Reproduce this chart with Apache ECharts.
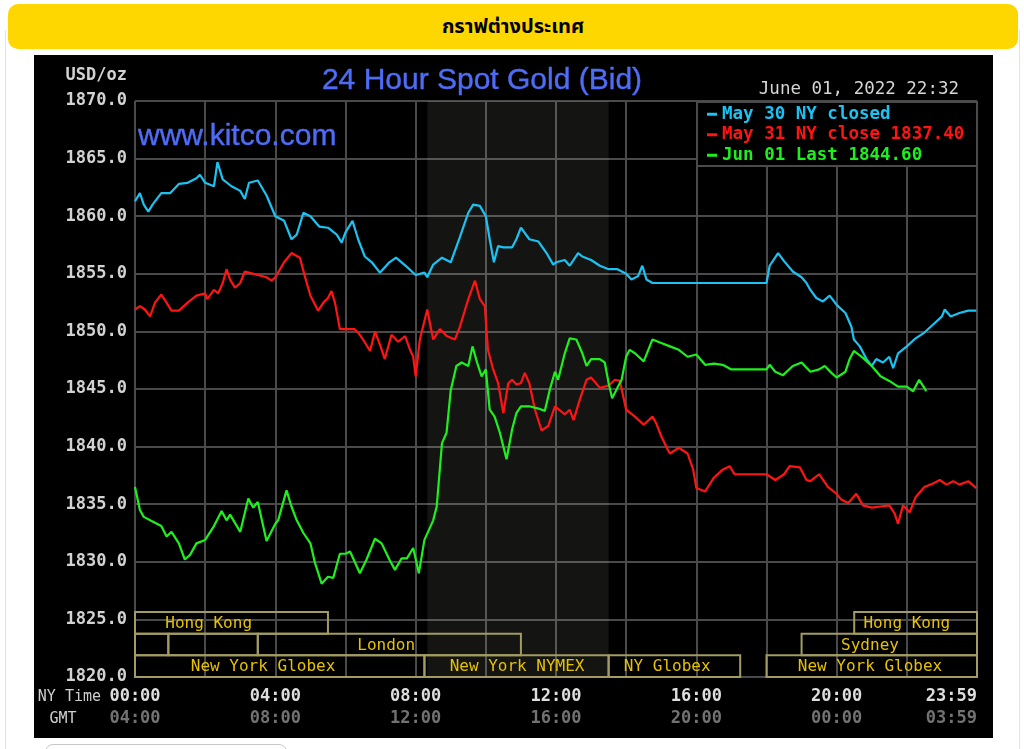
<!DOCTYPE html>
<html>
<head>
<meta charset="utf-8">
<script src="https://cdn.jsdelivr.net/npm/echarts@6/dist/echarts.min.js"></script>
<style>
  html, body { margin:0; padding:0; background:#fff; width:1024px; height:749px; overflow:hidden; }
  #frame { position:absolute; left:5px; top:30px; width:1013px; height:730px; border-left:1px solid #e2e2e2; border-right:1px solid #e2e2e2; }
  #hdr { position:absolute; left:8px; top:4px; width:1010px; height:45px; background:#ffd700; border-radius:10px;
         text-align:center; line-height:46px; font-weight:bold; font-size:20px; color:#000;
         font-family:'Noto Sans Thai','Tahoma','Noto Sans',sans-serif; }
  #panel { position:absolute; left:34px; top:55px; width:959px; height:683px; background:#000; }
  #chart { width:959px; height:683px; }
  #btn { position:absolute; left:45px; top:744px; width:240px; height:30px; border:1px solid #c8c8c8; border-radius:8px; }
</style>
</head>
<body>
<div id="frame"></div>
<div id="hdr">กราฟต่างประเทศ</div>
<div id="panel"><div id="chart"></div></div>
<div id="btn"></div>
<script>
// ---- data (hours in NY time, price USD/oz) ----
const may30Time = [0.00,0.14,0.25,0.38,0.50,0.75,1.00,1.25,1.50,1.75,1.85,2.00,2.25,2.35,2.50,2.75,3.00,3.13,3.25,3.50,3.75,4.00,4.25,4.46,4.61,4.80,5.00,5.25,5.50,5.75,5.89,6.00,6.20,6.36,6.55,6.75,6.98,7.25,7.44,7.75,8.00,8.25,8.33,8.50,8.75,9.00,9.25,9.50,9.64,9.83,10.00,10.11,10.23,10.35,10.50,10.75,10.87,11.00,11.24,11.50,11.75,11.92,12.00,12.25,12.39,12.63,12.75,13.00,13.25,13.50,13.75,14.00,14.15,14.34,14.46,14.58,14.75,18.00,18.09,18.33,18.50,18.75,19.00,19.14,19.25,19.42,19.61,19.80,20.00,20.25,20.42,20.49,20.66,20.85,21.00,21.13,21.32,21.50,21.61,21.75,22.00,22.25,22.50,22.75,23.00,23.08,23.25,23.50,23.75,23.98];
const may30Price = [1861.3,1862.0,1861.0,1860.4,1861.0,1862.0,1862.0,1862.8,1862.9,1863.3,1863.6,1862.9,1862.6,1864.7,1863.2,1862.6,1862.2,1861.5,1862.9,1863.1,1861.8,1860.0,1859.6,1858.0,1858.4,1860.3,1860.0,1859.1,1859.0,1858.4,1857.7,1858.6,1859.6,1858.0,1856.5,1856.0,1855.1,1856.0,1856.4,1855.6,1854.9,1855.1,1854.7,1855.8,1856.4,1856.0,1858.1,1860.3,1861.0,1860.9,1860.0,1858.0,1856.0,1857.4,1857.3,1857.3,1858.0,1859.0,1858.0,1857.8,1856.7,1855.8,1856.0,1856.2,1855.7,1856.8,1856.5,1856.2,1855.7,1855.4,1855.4,1855.0,1854.5,1854.8,1855.7,1854.5,1854.2,1854.2,1855.7,1856.8,1856.1,1855.2,1854.7,1854.2,1853.6,1852.9,1852.6,1853.1,1852.3,1851.6,1850.4,1849.3,1848.7,1847.6,1847.0,1847.6,1847.3,1847.8,1846.8,1848.1,1848.7,1849.4,1849.9,1850.6,1851.3,1851.9,1851.3,1851.6,1851.8,1851.8];

const may31Time = [0.00,0.14,0.28,0.43,0.57,0.75,0.90,1.04,1.25,1.50,1.75,2.00,2.06,2.25,2.37,2.50,2.61,2.71,2.85,3.00,3.13,3.25,3.50,3.75,3.89,4.00,4.25,4.46,4.70,4.84,5.00,5.22,5.37,5.50,5.60,5.70,5.84,6.00,6.25,6.36,6.50,6.70,6.84,7.00,7.12,7.31,7.50,7.70,7.84,7.93,8.00,8.12,8.33,8.50,8.69,8.88,9.12,9.26,9.50,9.69,9.83,9.97,10.06,10.21,10.35,10.50,10.64,10.75,10.87,11.00,11.11,11.24,11.40,11.59,11.78,11.97,12.25,12.39,12.50,12.68,12.87,13.00,13.25,13.50,13.68,13.82,14.00,14.25,14.50,14.75,14.86,15.00,15.19,15.25,15.50,15.75,15.91,16.00,16.25,16.50,16.75,16.95,17.09,18.00,18.25,18.50,18.66,18.95,19.14,19.25,19.50,19.75,20.00,20.13,20.33,20.56,20.75,21.00,21.25,21.50,21.65,21.75,21.89,22.08,22.25,22.50,22.75,22.94,23.13,23.32,23.50,23.75,23.98];
const may31Price = [1851.9,1852.2,1851.9,1851.3,1852.5,1853.2,1852.5,1851.8,1851.8,1852.5,1853.1,1853.3,1852.8,1853.6,1853.3,1854.2,1855.4,1854.5,1853.8,1854.2,1855.2,1855.1,1854.9,1854.7,1854.4,1854.7,1856.0,1856.8,1856.4,1854.8,1853.1,1851.8,1852.5,1852.9,1853.5,1852.5,1850.2,1850.2,1850.2,1849.9,1849.3,1848.3,1850.0,1848.7,1847.6,1849.7,1849.1,1849.6,1848.4,1847.8,1846.1,1849.3,1851.9,1849.3,1850.2,1849.6,1849.3,1850.4,1852.8,1854.4,1852.8,1852.2,1848.4,1846.7,1845.5,1842.9,1845.5,1845.8,1845.4,1845.5,1846.4,1845.5,1843.2,1841.4,1841.8,1843.5,1842.8,1843.2,1842.3,1844.1,1845.8,1846.0,1845.1,1845.3,1845.8,1845.7,1843.2,1842.6,1841.9,1842.6,1842.0,1840.9,1839.7,1839.4,1839.9,1839.4,1838.0,1836.4,1836.1,1837.3,1838.0,1838.3,1837.6,1837.6,1837.1,1837.6,1838.3,1838.2,1837.1,1837.0,1837.6,1836.5,1835.9,1835.4,1835.1,1835.9,1834.9,1834.7,1834.8,1834.9,1834.2,1833.3,1834.9,1834.3,1835.6,1836.5,1836.8,1837.1,1836.7,1837.0,1836.7,1837.0,1836.4];

const jun01Time = [0.00,0.14,0.25,0.50,0.75,0.90,1.04,1.25,1.42,1.57,1.75,2.00,2.25,2.47,2.61,2.71,3.00,3.23,3.37,3.50,3.75,4.00,4.08,4.32,4.46,4.61,4.80,5.00,5.13,5.32,5.50,5.65,5.84,6.00,6.13,6.41,6.60,6.84,7.03,7.25,7.41,7.60,7.75,7.93,8.09,8.25,8.50,8.60,8.75,8.88,9.00,9.16,9.31,9.50,9.62,9.75,9.88,10.00,10.11,10.25,10.40,10.59,10.75,10.87,11.00,11.24,11.50,11.68,11.82,11.97,12.06,12.25,12.39,12.58,12.75,12.87,13.00,13.25,13.39,13.50,13.60,13.75,13.87,14.00,14.10,14.25,14.50,14.75,15.00,15.25,15.50,15.75,16.00,16.25,16.50,16.75,17.00,18.00,18.09,18.25,18.47,18.75,19.00,19.25,19.50,19.66,19.85,20.00,20.25,20.37,20.49,20.75,21.00,21.25,21.50,21.75,22.00,22.18,22.35,22.50,22.55];
const jun01Price = [1836.5,1834.5,1833.9,1833.5,1833.1,1832.2,1832.6,1831.6,1830.2,1830.6,1831.6,1831.9,1833.1,1834.4,1833.6,1834.1,1832.6,1835.5,1834.7,1835.2,1831.8,1833.3,1833.6,1836.2,1834.8,1833.6,1832.5,1831.6,1829.9,1828.1,1828.7,1828.6,1830.7,1830.7,1830.9,1829.0,1830.2,1832.0,1831.6,1830.2,1829.3,1830.3,1830.3,1831.2,1829.0,1831.9,1833.6,1834.8,1840.3,1841.2,1844.9,1847.0,1847.3,1847.0,1848.7,1847.3,1846.1,1846.7,1843.2,1842.6,1841.2,1838.9,1841.5,1842.9,1843.5,1843.5,1843.3,1843.1,1844.9,1846.5,1845.8,1848.1,1849.4,1849.3,1848.1,1847.0,1847.6,1847.6,1847.3,1845.5,1844.2,1845.1,1845.8,1847.8,1848.4,1848.1,1847.4,1849.3,1849.0,1848.7,1848.4,1847.8,1848.0,1847.1,1847.2,1847.1,1846.7,1846.7,1847.1,1846.5,1846.2,1847.0,1847.3,1846.5,1846.7,1847.0,1846.4,1846.0,1846.5,1847.6,1848.3,1847.7,1847.0,1846.1,1845.7,1845.2,1845.2,1844.8,1845.8,1845.1,1844.8];

const seriesNames = ['May 30 NY closed', 'May 31 NY close 1837.40', 'Jun 01 Last 1844.60'];
const labelHours = [0, 4, 8, 12, 16, 20, 24];
const nyTimeLabels = ['00:00','04:00','08:00','12:00','16:00','20:00','23:59'];
const gmtLabels = ['04:00','08:00','12:00','16:00','20:00','00:00','03:59'];
// trading sessions: [name, start hour, end hour, row, label hour]
const sessions = [
  ['Hong Kong', 0, 5.5, 0, 2.1],
  ['', 0, 0.95, 1, 0],
  ['', 0.95, 3.5, 1, 0],
  ['London', 3.5, 11.0, 1, 7.16],
  ['New York Globex', 0, 8.25, 2, 3.65],
  ['New York NYMEX', 8.25, 13.5, 2, 10.89],
  ['NY Globex', 13.5, 17.25, 2, 15.17],
  ['New York Globex', 18.0, 24, 2, 20.95],
  ['Sydney', 19.0, 24, 1, 20.95],
  ['Hong Kong', 20.5, 24, 0, 22.0]
];
const nymexShade = [[8.333, 13.5]];
const yMin = 1820, yMax = 1870;

// ---- chart ----
const MONO = "'DejaVu Sans Mono', 'Liberation Mono', monospace";
const SANS = "'Liberation Sans', Arial, sans-serif";
const colors = ['#1bc3f2', '#ff1414', '#1ef01e'];
const chart = echarts.init(document.getElementById('chart'), null, { renderer: 'canvas' });

function pairs(t, v) { return t.map((x, i) => [x, v[i]]); }

const option = {
  animation: false,
  backgroundColor: 'transparent',
  grid: { left: 101, top: 46, width: 842, height: 576, containLabel: false },
  xAxis: {
    type: 'value', min: 0, max: 24, interval: 2,
    axisLine: { show: false }, axisTick: { show: false },
    splitLine: { show: true, lineStyle: { color: '#4a4a4a', width: 2 } },
    axisLabel: {
      interval: 0, margin: 9, showMaxLabel: true, alignMaxLabel: 'right',
      formatter: function (v) {
        const i = labelHours.indexOf(v);
        if (i < 0) return '';
        return '{a|' + nyTimeLabels[i] + '}\n{b|' + gmtLabels[i] + '}';
      },
      rich: {
        a: { color: '#dedede', fontFamily: MONO, fontWeight: 'bold', fontSize: 17, lineHeight: 22 },
        b: { color: '#727272', fontFamily: MONO, fontWeight: 'bold', fontSize: 17, lineHeight: 22 }
      }
    }
  },
  yAxis: {
    type: 'value', min: yMin, max: yMax, interval: 5,
    axisLine: { show: false }, axisTick: { show: false },
    splitLine: { show: true, lineStyle: { color: '#4a4a4a', width: 2 } },
    axisLabel: {
      margin: 8, color: '#d2d2d2', fontFamily: MONO, fontWeight: 'bold', fontSize: 17,
      formatter: v => v.toFixed(1)
    }
  },
  legend: {
    orient: 'vertical', left: 663, top: 48, z: 10,
    icon: 'rect', itemWidth: 10, itemHeight: 3, itemGap: 0, padding: [1, 0, 0, 10],
    selectedMode: false,
    textStyle: { fontFamily: MONO, fontWeight: 'bold', fontSize: 17.5, lineHeight: 20.5 },
    data: seriesNames.map((n, i) => ({ name: n, textStyle: { color: colors[i] } }))
  },
  graphic: [
    { type: 'rect', z: 5, shape: { x: 663, y: 47, width: 280, height: 64 },
      style: { fill: '#000', stroke: '#4a4a4a', lineWidth: 2 } },
    { type: 'text', z: 6, x: 448, y: 26,
      style: { text: '24 Hour Spot Gold (Bid)', fill: '#4f6cf6', font: '30px ' + SANS, align: 'center', verticalAlign: 'middle', textAlign: 'center', textVerticalAlign: 'middle', stroke: '#4f6cf6', lineWidth: 0.4 } },
    { type: 'text', z: 6, x: 104, y: 82,
      style: { text: 'www.kitco.com', fill: '#4f6cf6', font: '30px ' + SANS, align: 'left', verticalAlign: 'middle', textAlign: 'left', textVerticalAlign: 'middle', stroke: '#4f6cf6', lineWidth: 0.4 } },
    { type: 'text', z: 6, x: 93, y: 21,
      style: { text: 'USD/oz', fill: '#d2d2d2', font: 'bold 17px ' + MONO, align: 'right', verticalAlign: 'middle', textAlign: 'right', textVerticalAlign: 'middle' } },
    { type: 'text', z: 6, x: 925, y: 34,
      style: { text: 'June 01, 2022 22:32', fill: '#d6d6d6', font: '17.5px ' + MONO, align: 'right', verticalAlign: 'middle', textAlign: 'right', textVerticalAlign: 'middle' } },
    { type: 'text', z: 6, x: 67, y: 642,
      style: { text: 'NY Time', fill: '#cfcfcf', font: '15px ' + MONO, align: 'right', verticalAlign: 'middle', textAlign: 'right', textVerticalAlign: 'middle' } },
    { type: 'text', z: 6, x: 29, y: 664,
      style: { text: 'GMT', fill: '#cfcfcf', font: '15px ' + MONO, align: 'center', verticalAlign: 'middle', textAlign: 'center', textVerticalAlign: 'middle' } }
  ],
  series: [
    {
      type: 'custom', name: 'shade', z: 1, silent: true,
      data: nymexShade,
      renderItem: function (params, api) {
        const p0 = api.coord([api.value(0), yMax]);
        const p1 = api.coord([api.value(1), yMin]);
        return { type: 'rect', shape: { x: p0[0], y: p0[1], width: p1[0] - p0[0], height: p1[1] - p0[1] },
                 style: { fill: 'rgba(235,240,220,0.085)' } };
      }
    },
    {
      type: 'custom', name: 'sessions', z: 3, silent: true,
      data: sessions.map(s => s.slice(1)),
      renderItem: function (params, api) {
        const s = sessions[params.dataIndex];
        const bottom = api.coord([0, yMin])[1];
        const rowH = 21.67;
        const x0 = api.coord([api.value(0), yMin])[0];
        const x1 = api.coord([api.value(1), yMin])[0];
        const top = bottom - (3 - api.value(2)) * rowH;
        const children = [{
          type: 'rect', shape: { x: x0, y: top, width: x1 - x0, height: rowH },
          style: { fill: 'none', stroke: '#a29c62', lineWidth: 2 }
        }];
        if (s[0]) {
          const xl = api.coord([api.value(3), yMin])[0];
          children.push({ type: 'text', x: xl, y: top + rowH / 2 + 1,
            style: { text: s[0], fill: '#e6c200', font: '16px ' + MONO, align: 'center', verticalAlign: 'middle', textAlign: 'center', textVerticalAlign: 'middle' } });
        }
        return { type: 'group', children: children };
      }
    },
    { type: 'line', name: seriesNames[0], data: pairs(may30Time, may30Price), showSymbol: false, z: 4,
      lineStyle: { color: colors[0], width: 2.2 }, itemStyle: { color: colors[0] } },
    { type: 'line', name: seriesNames[1], data: pairs(may31Time, may31Price), showSymbol: false, z: 4,
      lineStyle: { color: colors[1], width: 2.2 }, itemStyle: { color: colors[1] } },
    { type: 'line', name: seriesNames[2], data: pairs(jun01Time, jun01Price), showSymbol: false, z: 4,
      lineStyle: { color: colors[2], width: 2.2 }, itemStyle: { color: colors[2] } }
  ]
};
chart.setOption(option);
</script>
</body>
</html>
